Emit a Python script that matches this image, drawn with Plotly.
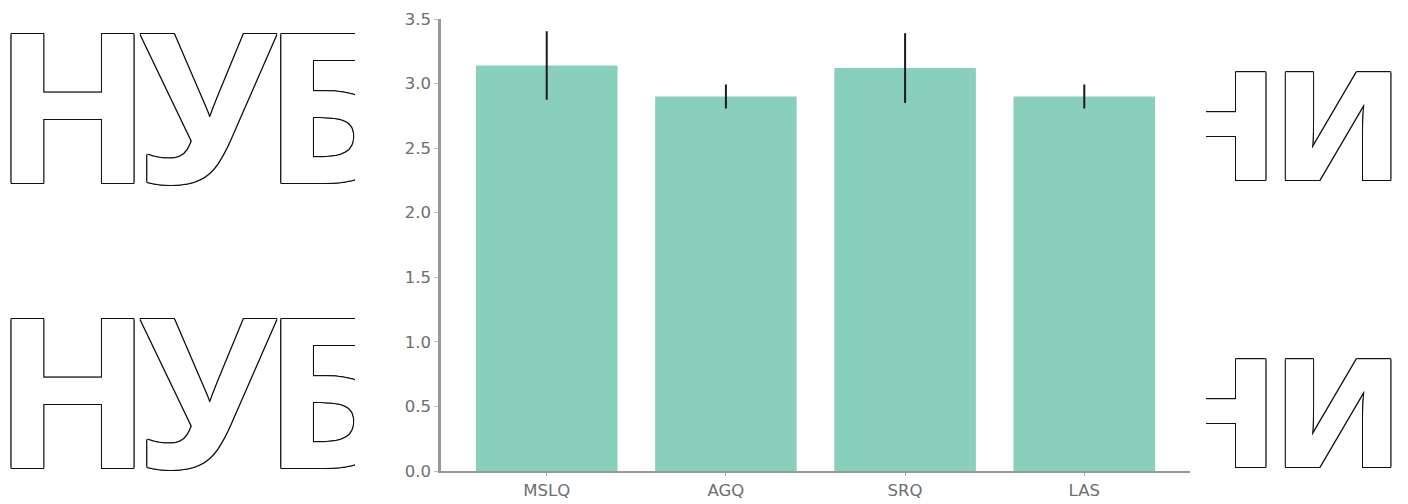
import plotly.graph_objects as go

categories = ["MSLQ", "AGQ", "SRQ", "LAS"]
means = [3.14, 2.90, 3.12, 2.90]
errors = [0.265, 0.093, 0.27, 0.093]
y_ticks = [0.0, 0.5, 1.0, 1.5, 2.0, 2.5, 3.0, 3.5]
y_tick_labels = ["0.0", "0.5", "1.0", "1.5", "2.0", "2.5", "3.0", "3.5"]

# watermark letters (decoration)
wm_left_letters = ["Н", "У", "Б"]
wm_right_letters = ["Н", "И"]

# page body has an 8px margin, so the figure is laid out in coordinates shifted by 8px
W, H = 1400, 496
PL, PR, PT, PB = 433, 1182, 11, 463
WM_LEFT_END, WM_RIGHT_START = 347, 1198
WM_LEFT_X = [64.5, 199.5, 321]
WM_RIGHT_X = [1211, 1330]
WM_LEFT_ROWS = [122.5, 407.5]
WM_RIGHT_ROWS = [134.5, 421]

outline = ("-1px -1px 0 #111, 1px -1px 0 #111, -1px 1px 0 #111, 1px 1px 0 #111, "
           "0 -1px 0 #111, 0 1px 0 #111, -1px 0 0 #111, 1px 0 0 #111")
wm_font_left = dict(family="Open Sans", size=208, color="white", weight=700, shadow=outline)
wm_font_right = dict(family="Open Sans", size=151, color="white", weight=800, shadow=outline)

fig = go.Figure()

lx, ly, lt = [], [], []
for yy in WM_LEFT_ROWS:
    for xx, ch in zip(WM_LEFT_X, wm_left_letters):
        lx.append(xx); ly.append(yy); lt.append(ch)
rx, ry, rt = [], [], []
for yy in WM_RIGHT_ROWS:
    for xx, ch in zip(WM_RIGHT_X, wm_right_letters):
        rx.append(xx); ry.append(yy); rt.append(ch)

fig.add_trace(go.Scatter(
    x=lx, y=ly, mode="text", text=lt, textposition="middle center",
    textfont=wm_font_left, cliponaxis=True, hoverinfo="skip", showlegend=False,
    xaxis="x2", yaxis="y2"))
fig.add_trace(go.Scatter(
    x=rx, y=ry, mode="text", text=rt, textposition="middle center",
    textfont=wm_font_right, cliponaxis=True, hoverinfo="skip", showlegend=False,
    xaxis="x3", yaxis="y3"))

fig.add_trace(go.Bar(
    x=categories, y=means, width=0.79,
    marker=dict(color="#88d0bb", line=dict(width=0)),
    error_y=dict(type="data", array=errors, visible=True,
                 color="#1a1a1a", thickness=2, width=0),
    showlegend=False, xaxis="x", yaxis="y"))

hidden = dict(visible=False, showgrid=False, zeroline=False, fixedrange=True)
tick_font = dict(family="DejaVu Sans", size=16.5, color="#6e6e6e")

fig.update_layout(
    width=W, height=H,
    margin=dict(l=0, r=0, t=0, b=0, autoexpand=False),
    paper_bgcolor="white", plot_bgcolor="rgba(0,0,0,0)",
    font=dict(family="DejaVu Sans", color="#6e6e6e", size=16.5),
    xaxis=dict(domain=[PL / W, PR / W], range=[-0.59, 3.59],
               showline=True, linecolor="#999999", linewidth=2,
               ticks="outside", ticklen=3, tickcolor="#aaaaaa",
               showgrid=False, zeroline=False, tickfont=tick_font),
    yaxis=dict(domain=[(H - PB) / H, (H - PT) / H], range=[0, 3.5],
               tickvals=y_ticks, ticktext=y_tick_labels,
               showline=True, linecolor="#999999", linewidth=2.5,
               ticks="outside", ticklen=4, tickcolor="#bbbbbb",
               showgrid=False, zeroline=False, tickfont=tick_font),
    xaxis2=dict(domain=[0, WM_LEFT_END / W], range=[0, WM_LEFT_END], anchor="y2", **hidden),
    yaxis2=dict(domain=[0, 1], range=[H, 0], anchor="x2", **hidden),
    xaxis3=dict(domain=[WM_RIGHT_START / W, 1], range=[WM_RIGHT_START, W], anchor="y3", **hidden),
    yaxis3=dict(domain=[0, 1], range=[H, 0], anchor="x3", **hidden),
)

fig.write_html("out.html")
